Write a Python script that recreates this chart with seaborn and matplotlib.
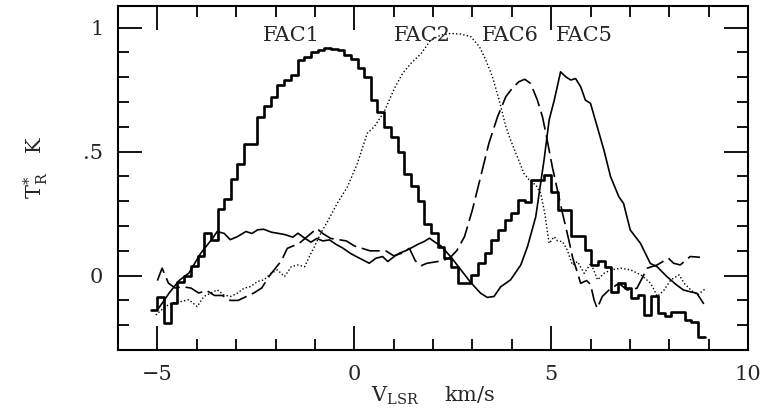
import matplotlib
matplotlib.use("Agg")
import matplotlib.pyplot as plt
from matplotlib.ticker import MultipleLocator, FixedLocator, FixedFormatter
import seaborn as sns

# ---------------- data ----------------
# FAC1: channelised spectrum drawn as a histogram (left channel edges; last value repeated at final edge)
v_fac1 = [-5.17, -5.00, -4.83, -4.66, -4.49, -4.32, -4.15, -3.98, -3.81, -3.64, -3.47,
          -3.31, -3.14, -2.97, -2.80, -2.63, -2.46, -2.29, -2.12, -1.95, -1.78,
          -1.61, -1.44, -1.27, -1.10, -0.93, -0.76, -0.59, -0.42, -0.25, -0.08,
          0.09, 0.25, 0.42, 0.59, 0.76, 0.93, 1.10, 1.27, 1.44, 1.61,
          1.78, 1.95, 2.12, 2.29, 2.46, 2.63, 2.80, 2.97, 3.14, 3.31,
          3.48, 3.65, 3.82, 3.99, 4.16, 4.33, 4.50, 4.66, 4.83, 5.00,
          5.17, 5.34, 5.51, 5.68, 5.85, 6.02, 6.19, 6.36, 6.53, 6.70,
          6.87, 7.04, 7.20, 7.37, 7.54, 7.71, 7.88, 8.05, 8.22, 8.39,
          8.56, 8.73, 8.90]
t_fac1 = [-0.14, -0.085, -0.19, -0.11, -0.025, 0.0, 0.04, 0.08, 0.17, 0.145, 0.27,
          0.31, 0.39, 0.45, 0.53, 0.53, 0.64, 0.685, 0.72, 0.77, 0.79,
          0.81, 0.87, 0.88, 0.90, 0.91, 0.92, 0.915, 0.91, 0.89, 0.875,
          0.836, 0.80, 0.71, 0.66, 0.60, 0.56, 0.50, 0.41, 0.36, 0.30,
          0.21, 0.171, 0.117, 0.07, 0.036, -0.031, -0.031, 0.003, 0.049, 0.090,
          0.143, 0.184, 0.224, 0.251, 0.305, 0.298, 0.386, 0.386, 0.406, 0.339,
          0.265, 0.265, 0.160, 0.160, 0.103, 0.043, 0.057, 0.036, -0.068, -0.031,
          -0.051, -0.091, -0.078, -0.159, -0.084, -0.152, -0.162, -0.145, -0.145, -0.179,
          -0.186, -0.249, -0.249]

# FAC2: dotted
v_fac2 = [-5.04, -4.80, -4.62, -4.41, -4.20, -3.99, -3.82, -3.65, -3.48, -3.31,
          -3.14, -2.97, -2.80, -2.63, -2.46, -2.29, -2.12, -1.95, -1.77, -1.60,
          -1.43, -1.26, -1.14, -1.01, -0.85, -0.68, -0.43, -0.17, 0.08, 0.33,
          0.51, 0.76, 1.02, 1.23, 1.44, 1.70, 1.94, 2.20, 2.45, 2.71,
          2.96, 3.18, 3.34, 3.51, 3.68, 3.85, 3.97, 4.14, 4.31, 4.48,
          4.61, 4.74, 4.84, 4.95, 5.08, 5.16, 5.29, 5.41, 5.54, 5.67,
          5.84, 6.01, 6.18, 6.34, 6.51, 6.77, 7.02, 7.28, 7.53, 7.70,
          7.87, 8.04, 8.25, 8.38, 8.55, 8.72, 8.93]
t_fac2 = [-0.159, -0.125, -0.11, -0.105, -0.097, -0.125, -0.084, -0.071, -0.057, -0.078,
          -0.084, -0.071, -0.051, -0.044, -0.024, -0.017, 0.009, 0.023, -0.004, 0.036,
          0.043, 0.036, 0.077, 0.117, 0.171, 0.218, 0.292, 0.359, 0.453, 0.574,
          0.601, 0.661, 0.755, 0.816, 0.856, 0.896, 0.950, 0.970, 0.977, 0.974,
          0.964, 0.923, 0.870, 0.802, 0.708, 0.601, 0.547, 0.480, 0.412, 0.379,
          0.366, 0.33, 0.25, 0.13, 0.157, 0.14, 0.137, 0.103, 0.043, 0.057,
          0.009, 0.05, -0.017, 0.009, 0.023, 0.030, 0.023, 0.003, -0.031, -0.084,
          -0.058, -0.017, 0.003, -0.031, -0.058, -0.078, -0.051]

# FAC6: long dashes
v_fac6 = [-5.00, -4.88, -4.72, -4.55, -4.35, -4.15, -3.95, -3.75, -3.55, -3.35,
          -3.15, -2.95, -2.75, -2.55, -2.35, -2.15, -2.00, -1.85, -1.70, -1.55,
          -1.40, -1.25, -1.10, -0.95, -0.80, -0.60, -0.40, -0.20, 0.00, 0.20,
          0.40, 0.60, 0.80, 1.00, 1.20, 1.40, 1.55, 1.70, 1.85, 2.05,
          2.25, 2.45, 2.60, 2.80, 3.00, 3.21, 3.42, 3.64, 3.85, 4.01,
          4.18, 4.33, 4.48, 4.65, 4.78, 4.90, 5.03, 5.16, 5.29, 5.45,
          5.55, 5.62, 5.75, 5.90, 6.00, 6.09, 6.17, 6.30, 6.47, 6.72,
          6.93, 7.18, 7.44, 7.69, 7.98, 8.11, 8.28, 8.53, 8.78]
t_fac6 = [-0.02, 0.03, -0.03, -0.05, -0.045, -0.05, -0.07, -0.06, -0.08, -0.08,
          -0.10, -0.10, -0.085, -0.07, -0.05, 0.0, 0.03, 0.06, 0.11, 0.12,
          0.13, 0.15, 0.17, 0.19, 0.17, 0.15, 0.145, 0.14, 0.12, 0.11,
          0.10, 0.10, 0.10, 0.08, 0.09, 0.11, 0.06, 0.04, 0.05, 0.055,
          0.06, 0.075, 0.10, 0.157, 0.265, 0.399, 0.534, 0.641, 0.722, 0.755,
          0.782, 0.792, 0.775, 0.708, 0.641, 0.547, 0.439, 0.345, 0.251, 0.143,
          0.07, 0.036, -0.031, -0.02, -0.035, -0.098, -0.132, -0.084, -0.058, -0.031,
          -0.058, -0.051, 0.03, 0.043, 0.07, 0.05, 0.043, 0.077, 0.074]

# FAC5: thin solid
v_fac5 = [-4.96, -4.70, -4.45, -4.20, -3.90, -3.60, -3.48, -3.30, -3.15, -2.97,
          -2.75, -2.60, -2.45, -2.30, -2.10, -1.95, -1.75, -1.56, -1.43, -1.25,
          -1.10, -0.95, -0.80, -0.63, -0.45, -0.29, -0.10, 0.05, 0.20, 0.38,
          0.55, 0.72, 0.85, 1.00, 1.14, 1.30, 1.44, 1.60, 1.78, 1.91,
          2.05, 2.20, 2.45, 2.71, 2.96, 3.21, 3.38, 3.55, 3.72, 3.97,
          4.23, 4.40, 4.61, 4.82, 4.95, 5.08, 5.24, 5.37, 5.50, 5.62,
          5.75, 5.87, 6.00, 6.17, 6.34, 6.51, 6.72, 6.84, 7.01, 7.27,
          7.52, 7.69, 7.94, 8.19, 8.36, 8.53, 8.70, 8.87]
t_fac5 = [-0.13, -0.07, -0.02, 0.01, 0.09, 0.15, 0.178, 0.17, 0.145, 0.157,
          0.178, 0.17, 0.185, 0.187, 0.175, 0.171, 0.165, 0.155, 0.171, 0.15,
          0.135, 0.15, 0.14, 0.144, 0.125, 0.111, 0.09, 0.077, 0.065, 0.05,
          0.07, 0.077, 0.057, 0.075, 0.09, 0.10, 0.111, 0.125, 0.138, 0.151,
          0.135, 0.12, 0.076, 0.023, -0.028, -0.071, -0.088, -0.084, -0.045, -0.017,
          0.043, 0.117, 0.238, 0.466, 0.628, 0.708, 0.822, 0.802, 0.789, 0.795,
          0.762, 0.708, 0.695, 0.601, 0.507, 0.399, 0.318, 0.291, 0.184, 0.130,
          0.049, 0.036, -0.004, -0.038, -0.058, -0.065, -0.071, -0.112]

labels = ["FAC1", "FAC2", "FAC6", "FAC5"]
label_x = [-1.60, 1.74, 3.97, 5.85]
label_y = [0.967, 0.967, 0.967, 0.967]

x_ticks = [-5, 0, 5, 10]
x_ticklabels = ["\u22125", "0", "5", "10"]
y_ticks = [0, 0.5, 1]
y_ticklabels = ["0", ".5", "1"]

# ---------------- style ----------------
sns.set_style("ticks")
plt.rcParams["font.family"] = ["DejaVu Serif"]
plt.rcParams["mathtext.fontset"] = "dejavuserif"

fig = plt.figure(figsize=(7.63, 4.13), dpi=100)
ax = fig.add_axes([118 / 763, 1 - 350 / 413, (748 - 118) / 763, (350 - 6) / 413])

common = dict(ax=ax, color="black", estimator=None, sort=False, legend=False)
sns.lineplot(x=v_fac1, y=t_fac1, lw=1.9, drawstyle="steps-post", **common)
sns.lineplot(x=v_fac2, y=t_fac2, lw=1.0, linestyle=(0, (1.0, 1.6)), **common)
sns.lineplot(x=v_fac6, y=t_fac6, lw=1.2, linestyle=(0, (11, 3.5)), **common)
sns.lineplot(x=v_fac5, y=t_fac5, lw=1.2, **common)

for name, lx, ly in zip(labels, label_x, label_y):
    ax.text(lx, ly, name, ha="center", va="center", fontsize=15)

ax.set_xlim(-6, 10)
ax.set_ylim(-0.3, 1.0875)

ax.xaxis.set_major_locator(FixedLocator(x_ticks))
ax.xaxis.set_major_formatter(FixedFormatter(x_ticklabels))
ax.xaxis.set_minor_locator(MultipleLocator(1))
ax.yaxis.set_major_locator(FixedLocator(y_ticks))
ax.yaxis.set_major_formatter(FixedFormatter(y_ticklabels))
ax.yaxis.set_minor_locator(MultipleLocator(0.1))

ax.tick_params(which="both", direction="in", top=True, right=True,
               color="black", width=1.3, labelsize=15, pad=10.5)
ax.tick_params(which="major", length=17)
ax.tick_params(which="minor", length=8)
for s in ax.spines.values():
    s.set_linewidth(1.5)
    s.set_color("black")

ax.set_xlabel(r"V$_{\rm LSR}$    km/s", fontsize=15)
ax.xaxis.set_label_coords(0.5, -0.10)
ax.set_ylabel(r"T$_{\rm R}^{*}$   K", fontsize=15)
ax.yaxis.set_label_coords(-0.108, 0.53)

fig.savefig("out.png", dpi=100)
